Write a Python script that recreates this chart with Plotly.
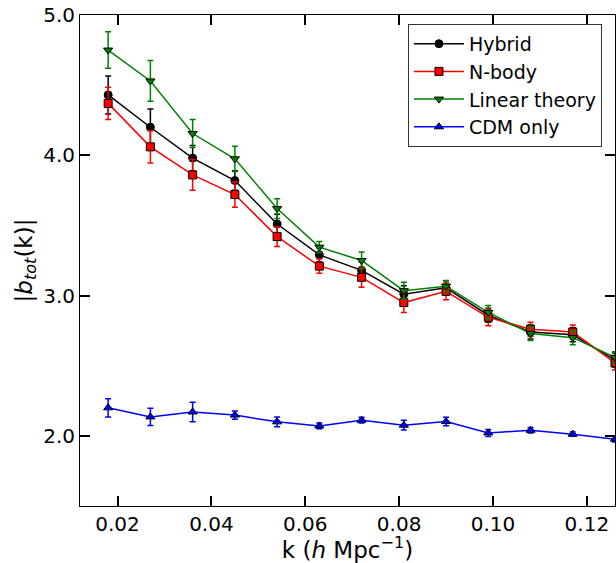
import plotly.graph_objects as go

k = [0.018, 0.027, 0.036, 0.045, 0.054, 0.063, 0.072, 0.081, 0.090, 0.099, 0.108, 0.117, 0.126]

hybrid = [4.43, 4.20, 3.98, 3.82, 3.51, 3.29, 3.18, 3.01, 3.055, 2.86, 2.74, 2.72, 2.54]
hybrid_err = [0.135, 0.13, 0.09, 0.07, 0.07, 0.05, 0.06, 0.06, 0.05, 0.05, 0.05, 0.05, 0.05]

nbody = [4.37, 4.06, 3.86, 3.72, 3.42, 3.21, 3.13, 2.95, 3.03, 2.845, 2.76, 2.74, 2.52]
nbody_err = [0.115, 0.115, 0.11, 0.09, 0.07, 0.05, 0.07, 0.07, 0.06, 0.06, 0.05, 0.05, 0.05]

linear = [4.75, 4.53, 4.155, 3.975, 3.62, 3.345, 3.25, 3.035, 3.067, 2.88, 2.73, 2.70, 2.56]
linear_err = [0.13, 0.145, 0.10, 0.09, 0.07, 0.04, 0.06, 0.06, 0.04, 0.05, 0.05, 0.05, 0.04]

cdm = [2.20, 2.135, 2.17, 2.148, 2.10, 2.071, 2.112, 2.076, 2.102, 2.021, 2.04, 2.012, 1.976]
cdm_err = [0.065, 0.062, 0.07, 0.03, 0.035, 0.02, 0.02, 0.035, 0.03, 0.025, 0.02, 0.015, 0.02]

series = [
    ("Hybrid", hybrid, hybrid_err, "black", "black", "circle"),
    ("N-body", nbody, nbody_err, "red", "red", "square"),
    ("Linear theory", linear, linear_err, "green", "green", "triangle-down"),
    ("CDM only", cdm, cdm_err, "blue", "blue", "triangle-up"),
]

fig = go.Figure()
for name, vals, errs, lc, mc, sym in series:
    fig.add_trace(go.Scatter(
        x=k, y=vals, name=name, mode="lines+markers",
        line=dict(color=lc, width=1.5),
        marker=dict(symbol=sym, size=8, color=mc, line=dict(color="black", width=1)),
        error_y=dict(type="data", array=errs, visible=True, color=lc, thickness=1.5, width=3),
        cliponaxis=True,
    ))

axis_common = dict(
    showgrid=False, zeroline=False, showline=True, linecolor="black", linewidth=1,
    mirror="ticks", ticks="inside", ticklen=10, tickwidth=2, tickcolor="black",
    tickfont=dict(family="DejaVu Sans", size=20, color="black"),
    automargin=False, ticklabeloverflow="allow",
)

fig.update_layout(
    width=616, height=563,
    margin=dict(l=80, r=1, t=15, b=57),
    paper_bgcolor="white", plot_bgcolor="white",
    font=dict(family="DejaVu Sans", color="black"),
    xaxis=dict(range=[0.012, 0.126], tickvals=[0.02, 0.04, 0.06, 0.08, 0.10, 0.12],
               ticktext=["0.02", "0.04", "0.06", "0.08", "0.10", "0.12"],
               title=dict(text="k (<i>h</i> Mpc<sup>−1</sup>)", font=dict(size=23), standoff=3),
               **axis_common),
    yaxis=dict(range=[1.5, 5.0], tickvals=[2.0, 3.0, 4.0, 5.0],
               ticktext=["2.0", "3.0", "4.0", "5.0"],
               title=dict(text="|<i>b</i><sub><i>tot</i></sub>(k)|", font=dict(size=23), standoff=4),
               **axis_common),
    legend=dict(x=0.613, y=0.982, xanchor="left", yanchor="top",
                bgcolor="white", bordercolor="#333", borderwidth=1,
                font=dict(size=19, family="DejaVu Sans"), tracegroupgap=0,
                itemwidth=50),
    showlegend=True,
)

fig.write_html(
    "out.html",
    config={"displayModeBar": False},
    post_script="document.body.style.margin='0';document.body.style.overflow='hidden';",
)
